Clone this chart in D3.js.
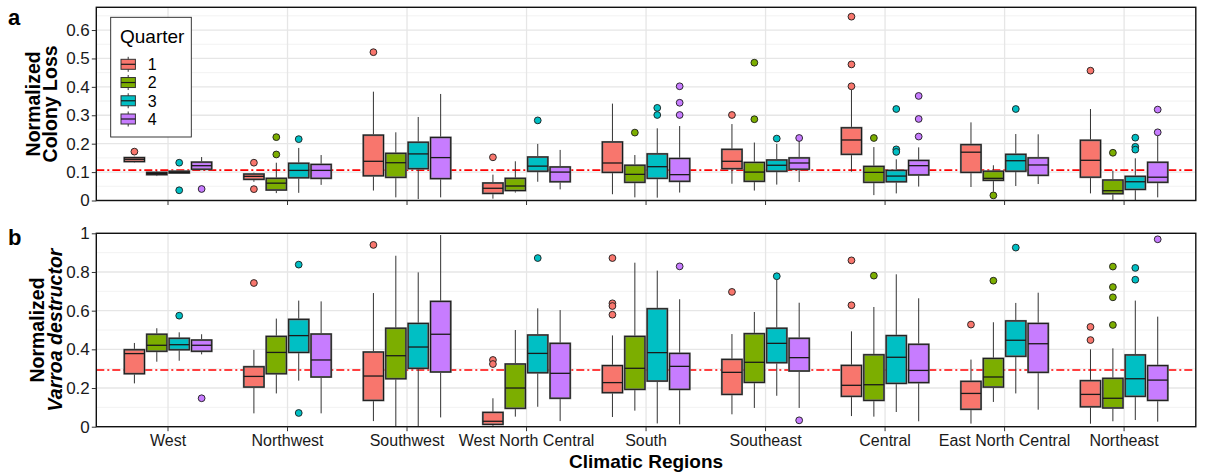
<!DOCTYPE html>
<html>
<head>
<meta charset="utf-8">
<script src="https://cdn.jsdelivr.net/npm/d3@7/dist/d3.min.js"></script>
<style>
  html, body { margin: 0; padding: 0; background: #fff; }
  svg { display: block; font-family: "Liberation Sans", Arial, sans-serif; }
</style>
</head>
<body>
<svg id="chart" width="1206" height="474"></svg>
<script>
// ---------------- DATA ----------------
const regions = ["West", "Northwest", "Southwest", "West North Central", "South",
                 "Southeast", "Central", "East North Central", "Northeast"];
const quarters = ["1", "2", "3", "4"];
const quarterColors = ["#F8766D", "#7CAE00", "#00BFC4", "#C77CFF"];

// Panel a: normalized colony loss — rows = regions, columns = quarters 1..4
const lossLow  = [[0.134,0.086,0.096,0.107],[0.066,0.026,0.027,0.055],[0.035,0.011,0.005,0.011],
                  [0.0065,0.028,0.066,0.039],[0.022,0.011,0.010,0.028],[0.059,0.035,0.056,0.065],
                  [0.1015,0.019,0.025,0.049],[0.0475,0.031,0.051,0.058],[0.025,0.002,0.0,0.011]];
const lossQ1   = [[0.137,0.091,0.097,0.110],[0.0745,0.037,0.080,0.078],[0.087,0.0815,0.112,0.077],
                  [0.025,0.035,0.103,0.066],[0.099,0.064,0.078,0.0675],[0.112,0.0675,0.103,0.110],
                  [0.1625,0.064,0.066,0.090],[0.099,0.071,0.103,0.0886],[0.082,0.024,0.039,0.064]];
const lossMed  = [[0.145,0.095,0.099,0.1225],[0.085,0.061,0.106,0.106],[0.138,0.133,0.164,0.151],
                  [0.043,0.051,0.121,0.100],[0.132,0.092,0.119,0.091],[0.138,0.100,0.124,0.132],
                  [0.213,0.099,0.086,0.1226],[0.170,0.078,0.140,0.125],[0.1415,0.0345,0.066,0.082]];
const lossQ3   = [[0.151,0.099,0.103,0.135],[0.093,0.078,0.131,0.127],[0.230,0.166,0.205,0.222],
                  [0.0616,0.078,0.153,0.118],[0.206,0.124,0.164,0.148],[0.180,0.134,0.1425,0.150],
                  [0.256,0.120,0.106,0.141],[0.1965,0.103,0.1625,0.150],[0.212,0.072,0.085,0.1345]];
const lossHigh = [[0.154,0.104,0.104,0.153],[0.098,0.133,0.185,0.160],[0.383,0.240,0.294,0.375],
                  [0.091,0.138,0.199,0.178],[0.341,0.160,0.254,0.262],[0.269,0.204,0.199,0.210],
                  [0.390,0.188,0.145,0.187],[0.275,0.124,0.234,0.233],[0.322,0.105,0.1485,0.228]];
const lossOut  = [[[0.172],[],[0.133,0.036],[0.0405]],
                  [[0.133,0.040],[0.223,0.162],[0.216],[]],
                  [[0.522],[],[],[]],
                  [[0.152],[],[0.282],[]],
                  [[],[0.239],[0.326,0.301],[0.402,0.344,0.301]],
                  [[0.301],[0.485,0.286],[0.218],[0.220]],
                  [[0.647,0.479,0.402],[0.220],[0.322,0.180,0.171],[0.368,0.287,0.225]],
                  [[],[0.018],[0.322],[]],
                  [[0.457],[0.168],[0.221,0.189,0.179],[0.320,0.240]]];
const lossRef = 0.107;
const lossTicks = [0, 0.1, 0.2, 0.3, 0.4, 0.5, 0.6];
const lossTickLabels = ["0", "0.1", "0.2", "0.3", "0.4", "0.5", "0.6"];

// Panel b: normalized Varroa destructor
const varLow  = [[0.224,0.336,0.341,0.374],[0.069,0.172,0.238,0.069],[0.029,0.0,0.0,0.048],
                 [0.0,0.052,0.103,0.029],[0.050,0.083,0.017,0.012],[0.064,0.097,0.160,0.097],
                 [0.055,0.052,0.076,0.028],[0.016,0.128,0.172,0.088],[0.0155,0.028,0.0345,0.026]];
const varQ1   = [[0.274,0.390,0.398,0.390],[0.205,0.274,0.384,0.257],[0.136,0.248,0.302,0.283],
                 [0.012,0.095,0.279,0.147],[0.176,0.193,0.236,0.193],[0.167,0.229,0.331,0.288],
                 [0.157,0.136,0.224,0.228],[0.090,0.205,0.364,0.281],[0.103,0.097,0.157,0.136]];
const varMed  = [[0.378,0.421,0.424,0.421],[0.260,0.384,0.471,0.345],[0.262,0.367,0.412,0.478],
                 [0.028,0.200,0.379,0.276],[0.228,0.302,0.383,0.312],[0.281,0.333,0.431,0.357],
                 [0.214,0.217,0.359,0.291],[0.172,0.257,0.447,0.429],[0.167,0.147,0.248,0.241]];
const varQ3   = [[0.398,0.478,0.457,0.448],[0.310,0.467,0.555,0.479],[0.386,0.509,0.534,0.648],
                 [0.074,0.324,0.474,0.431],[0.316,0.467,0.610,0.379],[0.348,0.481,0.509,0.457],
                 [0.317,0.372,0.471,0.426],[0.2345,0.353,0.547,0.534],[0.238,0.250,0.371,0.316]];
const varHigh = [[0.433,0.509,0.488,0.478],[0.397,0.559,0.652,0.648],[0.691,0.884,0.798,0.991],
                 [0.147,0.500,0.612,0.603],[0.472,0.848,0.807,0.659],[0.479,0.593,0.759,0.641],
                 [0.493,0.619,0.788,0.664],[0.347,0.540,0.640,0.693],[0.400,0.405,0.652,0.569]];
const varOut  = [[[],[],[0.574],[0.147]],
                 [[0.743],[],[0.838,0.071],[]],
                 [[0.940],[],[],[]],
                 [[0.345,0.324],[],[0.872],[]],
                 [[0.872,0.638,0.624,0.579],[],[],[0.829]],
                 [[0.697],[],[0.778],[0.033]],
                 [[0.860,0.628],[0.781],[],[]],
                 [[0.528],[0.755],[0.926],[]],
                 [[0.516,0.448],[0.828,0.722,0.669,0.526],[0.821,0.760],[0.969]]];
const varRef = 0.293;
const varTicks = [0, 0.2, 0.4, 0.6, 0.8, 1];
const varTickLabels = ["0", "0.2", "0.4", "0.6", "0.8", "1"];

// ---------------- LAYOUT ----------------
const svg = d3.select("#chart");
const plotLeft = 96.3, plotRight = 1195.8;

const x = d3.scaleBand().domain(regions).range([plotLeft, plotRight])
  .paddingInner(0).paddingOuter(0.1);
const step = x.bandwidth();
const xq = d3.scaleBand().domain(quarters).range([-0.375 * step, 0.375 * step]);
const boxW = xq.bandwidth() * 0.9;
const color = d3.scaleOrdinal().domain(quarters).range(quarterColors);

function panel(cfg) {
  const y = d3.scaleLinear().domain(cfg.domain).range([cfg.bottom, cfg.top]);
  const g = svg.append("g");

  // minor grid
  g.selectAll(".minor").data(cfg.minor).join("line")
    .attr("x1", plotLeft).attr("x2", plotRight)
    .attr("y1", d => y(d)).attr("y2", d => y(d))
    .attr("stroke", "#F0F0F0").attr("stroke-width", 0.9);
  // major grid
  g.selectAll(".majorH").data(cfg.ticks).join("line")
    .attr("x1", plotLeft).attr("x2", plotRight)
    .attr("y1", d => y(d)).attr("y2", d => y(d))
    .attr("stroke", "#E6E6E6").attr("stroke-width", 1.3);
  g.selectAll(".majorV").data(regions).join("line")
    .attr("x1", d => x(d) + step / 2).attr("x2", d => x(d) + step / 2)
    .attr("y1", cfg.top).attr("y2", cfg.bottom)
    .attr("stroke", "#E6E6E6").attr("stroke-width", 1.3);

  // reference line (behind boxes)
  g.append("line").attr("x1", plotLeft).attr("x2", plotRight)
    .attr("y1", y(cfg.ref)).attr("y2", y(cfg.ref))
    .attr("stroke", "#FF0000").attr("stroke-width", 1.6)
    .attr("stroke-dasharray", "8,3,2,3");

  // boxes
  const rows = [];
  regions.forEach((r, i) => quarters.forEach((q, j) => {
    rows.push({ r, q, lo: cfg.low[i][j], q1: cfg.q1[i][j], med: cfg.med[i][j],
                q3: cfg.q3[i][j], hi: cfg.high[i][j], out: cfg.out[i][j] });
  }));
  const cx = d => x(d.r) + step / 2 + xq(d.q) + xq.bandwidth() / 2;

  const bg = g.selectAll(".box").data(rows).join("g");
  bg.append("line").attr("x1", cx).attr("x2", cx)
    .attr("y1", d => y(d.hi)).attr("y2", d => y(d.q3))
    .attr("stroke", "#333").attr("stroke-width", 1);
  bg.append("line").attr("x1", cx).attr("x2", cx)
    .attr("y1", d => y(d.q1)).attr("y2", d => y(d.lo))
    .attr("stroke", "#333").attr("stroke-width", 1);
  bg.append("rect")
    .attr("x", d => cx(d) - boxW / 2).attr("width", boxW)
    .attr("y", d => y(d.q3)).attr("height", d => Math.max(1, y(d.q1) - y(d.q3)))
    .attr("fill", d => color(d.q)).attr("stroke", "#777").attr("stroke-width", 2);
  bg.append("rect")
    .attr("x", d => cx(d) - boxW / 2).attr("width", boxW)
    .attr("y", d => y(d.q3)).attr("height", d => Math.max(1, y(d.q1) - y(d.q3)))
    .attr("fill", "none").attr("stroke", "#1a1a1a").attr("stroke-width", 1);
  bg.append("line")
    .attr("x1", d => cx(d) - boxW / 2).attr("x2", d => cx(d) + boxW / 2)
    .attr("y1", d => y(d.med)).attr("y2", d => y(d.med))
    .attr("stroke", "#1a1a1a").attr("stroke-width", 1.3);
  bg.selectAll("circle").data(d => d.out.map(v => ({ v, d }))).join("circle")
    .attr("cx", o => cx(o.d)).attr("cy", o => y(o.v)).attr("r", 3.4)
    .attr("fill", o => color(o.d.q)).attr("stroke", "#1a1a1a").attr("stroke-width", 0.9);

  // border
  g.append("rect").attr("x", plotLeft).attr("y", cfg.top)
    .attr("width", plotRight - plotLeft).attr("height", cfg.bottom - cfg.top)
    .attr("fill", "none").attr("stroke", "#111").attr("stroke-width", 1.4);

  // y axis
  const yAxis = d3.axisLeft(y).tickValues(cfg.ticks)
    .tickFormat((d, i) => cfg.tickLabels[i]).tickSize(4.5).tickPadding(2);
  const ya = g.append("g").attr("transform", `translate(${plotLeft},0)`).call(yAxis);
  ya.select(".domain").remove();
  ya.selectAll("line").attr("stroke", "#333");
  ya.selectAll("text").attr("font-size", 17).attr("fill", "#1a1a1a")
    .attr("font-family", '"Liberation Sans", Arial, sans-serif');

  // x axis
  const xAxis = d3.axisBottom(x).tickSize(4.5).tickPadding(3)
    .tickFormat(cfg.showX ? (d => d) : () => "");
  const xa = g.append("g").attr("transform", `translate(0,${cfg.bottom})`).call(xAxis);
  xa.select(".domain").remove();
  xa.selectAll("line").attr("stroke", "#333");
  xa.selectAll("text").attr("font-size", 16).attr("fill", "#1a1a1a")
    .attr("font-family", '"Liberation Sans", Arial, sans-serif');

  // y title
  const mid = (cfg.top + cfg.bottom) / 2;
  cfg.title.forEach((t, i) => {
    g.append("text")
      .attr("transform", `translate(${cfg.titleX[i]},${mid}) rotate(-90)`)
      .attr("text-anchor", "middle").attr("font-size", 19.5).attr("font-weight", "bold")
      .attr("font-style", t.italic ? "italic" : "normal")
      .attr("fill", "#000").text(t.text);
  });

  // panel letter
  g.append("text").attr("x", 8).attr("y", cfg.letterY)
    .attr("font-size", 22).attr("font-weight", "bold").attr("fill", "#000").text(cfg.letter);
}

panel({
  domain: [0, 0.68], top: 7.3, bottom: 200.5,
  ticks: lossTicks, tickLabels: lossTickLabels,
  minor: [0.05, 0.15, 0.25, 0.35, 0.45, 0.55, 0.65],
  low: lossLow, q1: lossQ1, med: lossMed, q3: lossQ3, high: lossHigh, out: lossOut,
  ref: lossRef, showX: false,
  title: [{ text: "Normalized" }, { text: "Colony Loss" }], titleX: [40, 57],
  letter: "a", letterY: 25
});

panel({
  domain: [0, 1], top: 233.3, bottom: 426.7,
  ticks: varTicks, tickLabels: varTickLabels,
  minor: [0.1, 0.3, 0.5, 0.7, 0.9],
  low: varLow, q1: varQ1, med: varMed, q3: varQ3, high: varHigh, out: varOut,
  ref: varRef, showX: true,
  title: [{ text: "Normalized" }, { text: "Varroa destructor", italic: true }], titleX: [43.5, 61.5],
  letter: "b", letterY: 245
});

// x title
svg.append("text").attr("x", (plotLeft + plotRight) / 2).attr("y", 468)
  .attr("text-anchor", "middle").attr("font-size", 19).attr("font-weight", "bold")
  .attr("fill", "#000").text("Climatic Regions");

// legend
const lg = svg.append("g");
lg.append("rect").attr("x", 110.7).attr("y", 17.3).attr("width", 80.6).attr("height", 119.7)
  .attr("fill", "#fff").attr("stroke", "#222").attr("stroke-width", 0.9);
lg.append("text").attr("x", 120).attr("y", 43).attr("font-size", 19).attr("fill", "#000").text("Quarter");
const keyY = d3.scalePoint().domain(quarters).range([64.3, 119]);
const keys = lg.selectAll(".key").data(quarters).join("g")
  .attr("transform", d => `translate(128.2,${keyY(d)})`);
keys.append("line").attr("x1", 0).attr("x2", 0).attr("y1", -7.5).attr("y2", 7.5)
  .attr("stroke", "#333").attr("stroke-width", 1);
keys.append("rect").attr("x", -7.2).attr("y", -5).attr("width", 14.4).attr("height", 10)
  .attr("fill", d => color(d)).attr("stroke", "#333").attr("stroke-width", 1);
keys.append("line").attr("x1", -7.2).attr("x2", 7.2).attr("y1", 0).attr("y2", 0)
  .attr("stroke", "#1a1a1a").attr("stroke-width", 1.2);
keys.append("text").attr("x", 19.5).attr("y", 5.8).attr("font-size", 16).attr("fill", "#000")
  .text(d => d);
</script>
</body>
</html>
